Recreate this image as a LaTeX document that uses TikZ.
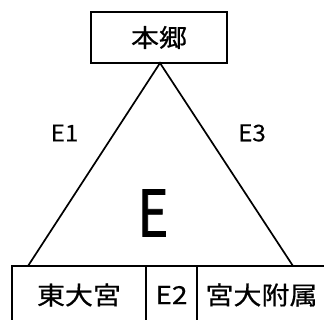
\documentclass[tikz,border=0pt]{standalone}
\usepackage{fontspec}
\setmainfont{Noto Sans CJK JP}
\newfontfamily\cjkwide[FakeStretch=1.12,FakeBold=0.6]{Noto Sans CJK JP}
\newfontfamily\latinlbl[FakeStretch=1.05,FakeBold=0.3]{Noto Sans CJK JP}
\newfontfamily\bigE[FakeStretch=0.82,FakeBold=1.2]{Noto Sans CJK JP}
\begin{document}
\begin{tikzpicture}[x=1pt,y=-1pt,
  box/.style={draw,line width=2.8pt,inner sep=0pt,outer sep=0pt,font=\cjkwide\fontsize{25}{25}\selectfont},
  lbl/.style={font=\latinlbl\fontsize{23}{23}\selectfont,inner sep=0pt}]
\useasboundingbox (0,0) rectangle (324,320);
\clip (0,0) rectangle (324,320);
\node[box,minimum width=136pt,minimum height=51pt] (hongo) at (159,37.5) {本郷};
\node[box,minimum width=134pt,minimum height=58pt] (toudai) at (79,295) {東大宮};
\node[box,minimum width=51pt,minimum height=58pt] (e2) at (171.5,295) {E2};
\node[box,minimum width=129pt,minimum height=58pt] (fuzoku) at (261.5,295) {宮大附属};
\coordinate (apex) at (160,63);
\coordinate (bl) at (28,266);
\coordinate (br) at (293,266);
\draw[line width=1.7pt] (bl) -- (apex) -- (br);
\node[lbl] (e1) at (64.5,133) {E1};
\node[lbl] (e3) at (252,133) {E3};
\node[font=\bigE\fontsize{64}{64}\selectfont,inner sep=0pt] (e) at (153,213) {E};
\end{tikzpicture}
\end{document}
